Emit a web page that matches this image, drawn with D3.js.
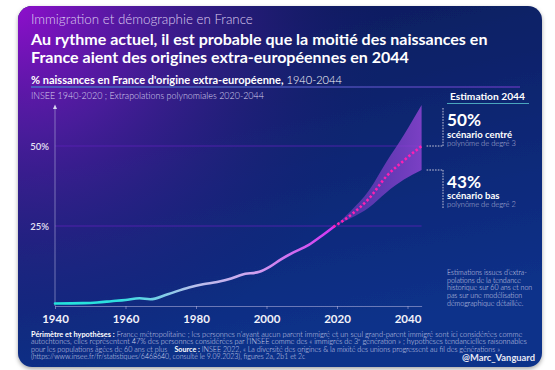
<!DOCTYPE html>
<html>
<head>
<meta charset="utf-8">
<script src="https://cdn.jsdelivr.net/npm/d3@7"></script>
<style>
  body { margin: 0; background: #fff; }
  svg { display: block; font-family: Lato, "Open Sans", sans-serif; }
</style>
</head>
<body>
<svg id="chart" width="555" height="370"></svg>
<script>
// données
const yearsHist = [1940, 1948, 1952, 1956, 1960, 1964, 1967, 1972, 1978, 1982, 1986, 1990, 1993, 1998, 2001, 2004, 2007, 2012, 2016, 2019];
const pctHist   = [0.8, 0.9, 1.1, 1.5, 1.9, 2.4, 2.1, 3.7, 5.8, 6.8, 7.5, 8.6, 9.8, 10.7, 12.3, 14.5, 16.4, 19.1, 22.2, 24.7];
const yearsProj  = [2019, 2024, 2029, 2034, 2039, 2044];
const pctCentral = [24.7, 28.5, 33.5, 40.5, 45.5, 50];
const pctHigh    = [24.7, 29.8, 36, 45, 53.5, 62.8];
const pctLow     = [24.7, 27.5, 30.7, 35.5, 39.5, 42.5];
const xTicks = [1940, 1960, 1980, 2000, 2020, 2040];
const yTicks = [25, 50];

const svg = d3.select('#chart');
const defs = svg.append('defs');

// fond de la carte
const base = defs.append('linearGradient').attr('id', 'base')
    .attr('x1', 0).attr('y1', 0).attr('x2', 0.3).attr('y2', 1);
base.append('stop').attr('offset', 0).attr('stop-color', '#0b1a58');
base.append('stop').attr('offset', 1).attr('stop-color', '#0f318a');

const glow = defs.append('radialGradient').attr('id', 'glow')
    .attr('gradientUnits', 'userSpaceOnUse')
    .attr('cx', 18).attr('cy', 6).attr('r', 370);
glow.append('stop').attr('offset', 0).attr('stop-color', '#8e0fcc').attr('stop-opacity', 1);
glow.append('stop').attr('offset', 0.35).attr('stop-color', '#5c1aaa').attr('stop-opacity', 0.75);
glow.append('stop').attr('offset', 1).attr('stop-color', '#1a1a70').attr('stop-opacity', 0);

const shadow = defs.append('filter').attr('id', 'shadow')
    .attr('x', -0.05).attr('y', -0.05).attr('width', 1.1).attr('height', 1.1);
shadow.append('feDropShadow').attr('dx', 0).attr('dy', 2).attr('stdDeviation', 2)
    .attr('flood-color', '#000').attr('flood-opacity', 0.35);

svg.append('rect').attr('x', 18).attr('y', 6).attr('width', 524).attr('height', 361)
    .attr('rx', 14).attr('fill', 'url(#base)').attr('filter', 'url(#shadow)');
svg.append('rect').attr('x', 18).attr('y', 6).attr('width', 524).attr('height', 361)
    .attr('rx', 14).attr('fill', 'url(#glow)');

// ajuste la taille de police pour une largeur donnée
function fit(t, w) {
    const s = parseFloat(t.attr('font-size'));
    const l = t.node().getComputedTextLength();
    t.attr('font-size', (s * w / l).toFixed(2));
    return t;
}

// en-tête
fit(svg.append('text').attr('x', 31).attr('y', 23.5).attr('font-size', 12)
    .attr('font-weight', 300).attr('fill', '#dccbef')
    .text('Immigration et démographie en France'), 222);

const t1 = fit(svg.append('text').attr('x', 31).attr('y', 44.5).attr('font-size', 15)
    .attr('font-weight', 700).attr('fill', '#fff')
    .text('Au rythme actuel, il est probable que la moitié des naissances en'), 457);
svg.append('text').attr('x', 31).attr('y', 62.5).attr('font-size', t1.attr('font-size'))
    .attr('font-weight', 700).attr('fill', '#fff')
    .text('France aient des origines extra-européennes en 2044');

const sub = svg.append('text').attr('x', 31).attr('y', 84).attr('font-size', 10).attr('fill', '#fff');
sub.append('tspan').attr('font-weight', 700).text('% naissances en France d\'origine extra-européenne,');
sub.append('tspan').attr('font-weight', 300).text(' 1940-2044');
fit(sub, 311);

const uline = defs.append('linearGradient').attr('id', 'uline');
uline.append('stop').attr('offset', 0).attr('stop-color', '#3aa0d8');
uline.append('stop').attr('offset', 1).attr('stop-color', '#7a3ad0');
svg.append('rect').attr('x', 31).attr('y', 86.5).attr('width', 489).attr('height', 1)
    .attr('fill', 'url(#uline)');

fit(svg.append('text').attr('x', 31).attr('y', 99).attr('font-size', 8)
    .attr('font-weight', 300).attr('fill', '#d8d2ee')
    .text('INSEE 1940-2020 ; Extrapolations polynomiales 2020-2044'), 233);

// échelles
const x = d3.scaleLinear().domain([1940, 2044]).range([55, 421.6]);
const y = d3.scaleLinear().domain([0, 62.5]).range([306, 106]);

// grille
svg.append('g').selectAll('line').data(yTicks).join('line')
    .attr('x1', x(1940)).attr('x2', x(2044))
    .attr('y1', d => y(d)).attr('y2', d => y(d))
    .attr('stroke', '#5a22b6').attr('stroke-opacity', 0.8).attr('stroke-width', 1.2);

// axe y
svg.append('line').attr('x1', x(1940)).attr('x2', x(1940)).attr('y1', y(0)).attr('y2', 108)
    .attr('stroke', '#b8b6e0').attr('stroke-opacity', 0.55);
svg.append('path').attr('d', `M${x(1940) - 2},109L${x(1940)},104.5L${x(1940) + 2},109Z`)
    .attr('fill', '#d8d6f0');

const yAxis = svg.append('g').attr('transform', `translate(${x(1940) - 3},0)`)
    .call(d3.axisLeft(y).tickValues(yTicks).tickSize(0).tickFormat(d => d + '%'));
yAxis.select('.domain').remove();
yAxis.selectAll('text').attr('font-size', 9.5).attr('font-weight', 600)
    .attr('fill', '#e4e2f4').attr('font-family', 'Lato, sans-serif');

// axe x
const xAxis = svg.append('g').attr('transform', `translate(0,${y(0)})`)
    .call(d3.axisBottom(x).tickValues(xTicks).tickSize(3).tickSizeOuter(0).tickPadding(6).tickFormat(d3.format('d')));
xAxis.select('.domain').attr('stroke', '#b8b6e0').attr('stroke-opacity', 0.55);
xAxis.selectAll('.tick line').attr('stroke', '#b8b6e0').attr('stroke-opacity', 0.55);
xAxis.selectAll('text').attr('font-size', 11.5).attr('font-weight', 700)
    .attr('fill', '#f2f2fa').attr('font-family', 'Lato, sans-serif');

// bande des scénarios
const proj = yearsProj.map((d, i) => ({ year: d, c: pctCentral[i], hi: pctHigh[i], lo: pctLow[i] }));
const bandGrad = defs.append('linearGradient').attr('id', 'band')
    .attr('gradientUnits', 'userSpaceOnUse').attr('x1', x(2019)).attr('x2', x(2044));
bandGrad.append('stop').attr('offset', 0).attr('stop-color', '#7d3cc8').attr('stop-opacity', 0.5);
bandGrad.append('stop').attr('offset', 1).attr('stop-color', '#8e44d2').attr('stop-opacity', 0.85);
svg.append('path').datum(proj)
    .attr('d', d3.area().x(d => x(d.year)).y0(d => y(d.lo)).y1(d => y(d.hi)).curve(d3.curveMonotoneX))
    .attr('fill', 'url(#band)');

// série historique
const lineGrad = defs.append('linearGradient').attr('id', 'lineGrad')
    .attr('gradientUnits', 'userSpaceOnUse').attr('x1', x(1940)).attr('x2', x(2019));
lineGrad.append('stop').attr('offset', 0).attr('stop-color', '#22e4dc');
lineGrad.append('stop').attr('offset', 0.22).attr('stop-color', '#2ee0e0');
lineGrad.append('stop').attr('offset', 0.5).attr('stop-color', '#b8c0ec');
lineGrad.append('stop').attr('offset', 0.7).attr('stop-color', '#cfa6ee');
lineGrad.append('stop').attr('offset', 1).attr('stop-color', '#d234f2');

const hist = yearsHist.map((d, i) => ({ year: d, v: pctHist[i] }));
svg.append('path').datum(hist)
    .attr('d', d3.line().x(d => x(d.year)).y(d => y(d.v)).curve(d3.curveMonotoneX))
    .attr('fill', 'none').attr('stroke', 'url(#lineGrad)').attr('stroke-width', 2.6)
    .attr('stroke-linecap', 'round');

// scénario centré en pointillé
svg.append('path').datum(proj)
    .attr('d', d3.line().x(d => x(d.year)).y(d => y(d.c)).curve(d3.curveMonotoneX))
    .attr('fill', 'none').attr('stroke', '#ff1fb4').attr('stroke-width', 2.6)
    .attr('stroke-dasharray', '2.4,2.3');

// annotations à droite
const ax = 447;
fit(svg.append('text').attr('x', ax + 3).attr('y', 100).attr('font-size', 11)
    .attr('font-weight', 700).attr('fill', '#fff').text('Estimation 2044'), 75);
svg.append('rect').attr('x', 447).attr('y', 103).attr('width', 82).attr('height', 1)
    .attr('fill', '#4aa6be');

function bracket(v, y0, y1) {
    const g = svg.append('g').attr('fill', 'none').attr('stroke', '#c4c4d8')
        .attr('stroke-width', 1).attr('stroke-dasharray', '1.6,1.2');
    g.append('path').attr('d', `M${x(2044) + 5},${y(v)}H443`);
    g.append('path').attr('d', `M443,${y0}V${y1}`);
}
bracket(pctCentral[pctCentral.length - 1], 108, y(50));
bracket(pctLow[pctLow.length - 1], y(pctLow[pctLow.length - 1]), 208);

function scenario(top, pct, name, deg) {
    fit(svg.append('text').attr('x', ax).attr('y', top).attr('font-size', 19)
        .attr('font-weight', 700).attr('fill', '#fff').text(pct), 34);
    svg.append('text').attr('x', ax).attr('y', top + 11.5).attr('font-size', 9.6)
        .attr('font-weight', 700).attr('fill', '#fff').text(name);
    fit(svg.append('text').attr('x', ax).attr('y', top + 19.5).attr('font-size', 6.5)
        .attr('font-weight', 300).attr('fill', '#b9bbdc').text(deg), 69);
}
scenario(126, Math.round(pctCentral[pctCentral.length - 1]) + '%', 'scénario centré', 'polynôme de degré 3');
scenario(187.5, Math.round(pctLow[pctLow.length - 1]) + '%', 'scénario bas', 'polynôme de degré 2');

const note = ['Estimations issues d\u2019extra-', 'polations de la tendance', 'historique sur 60 ans et non',
    'pas sur une modélisation', 'démographique détaillée.'];
const noteT = svg.append('g').selectAll('text').data(note).join('text')
    .attr('x', ax).attr('y', (d, i) => 275 + i * 7.7)
    .attr('font-size', 6.8).attr('font-weight', 300).attr('fill', '#d6d6ea').text(d => d);
fit(d3.select(noteT.nodes()[0]), 80);
noteT.attr('font-size', d3.select(noteT.nodes()[0]).attr('font-size'));

// pied de page
const foot = [
    [['Périmètre et hypothèses :', 700], [' France métropolitaine ; les personnes n\u2019ayant aucun parent immigré et un seul grand-parent immigré sont ici considérées comme', 300]],
    [['autochtones, elles représentent 47% des personnes considérées par l\u2019INSEE comme des « immigrés de 3ᵉ génération » ; hypothèses tendancielles raisonnables', 300]],
    [['pour les populations âgées de 60 ans et plus\u2003 ', 300], ['Source :', 700], [' INSEE 2022, « La diversité des origines & la mixité des unions progressent au fil des générations »', 300]],
    [['(https://www.insee.fr/fr/statistiques/6468640, consulté le 9.09.2023), figures 2a, 2b1 et 2c', 300]]
];
const footW = [492, 496, 470, 275];
const footT = svg.append('g').selectAll('text').data(foot).join('text')
    .attr('x', 31).attr('y', (d, i) => 336.5 + i * 7.55)
    .attr('font-size', 7).attr('fill', '#d4d6ec');
footT.selectAll('tspan').data(d => d).join('tspan')
    .attr('font-weight', d => d[1]).attr('fill', d => d[1] == 700 ? '#fff' : null).text(d => d[0]);
footT.each(function (d, i) { fit(d3.select(this), footW[i]); });

fit(svg.append('text').attr('x', 535).attr('y', 360.5).attr('text-anchor', 'end')
    .attr('font-size', 10).attr('font-weight', 700).attr('fill', '#e8e8f4')
    .text('@Marc_Vanguard'), 73);
</script>
</body>
</html>
